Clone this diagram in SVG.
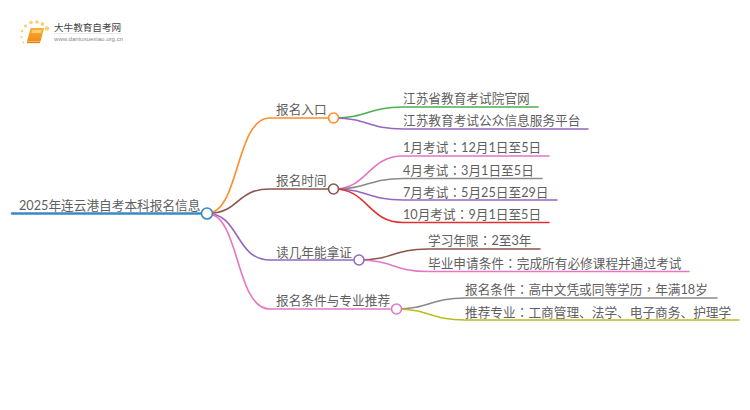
<svg xmlns="http://www.w3.org/2000/svg" width="750" height="410" viewBox="0 0 750 410">
<style>
text{font-family:Lato,"Noto Sans CJK SC","Liberation Sans",sans-serif;font-size:12.680px;fill:#5f5f5f}
.p{font-family:"Noto Sans CJK TC",sans-serif}
.c{fill:none;stroke-width:1.6;stroke-linecap:round}
.n{fill:#fff;stroke-width:1.6}
</style>
<defs><linearGradient id="b" x1="0" y1="0" x2="0" y2="1"><stop offset="0" stop-color="#fbb03b"/><stop offset="1" stop-color="#f08a12"/></linearGradient></defs>
<rect width="750" height="410" fill="#fff"/>
<g id="logo">
<g fill="#f9c85a" opacity=".85"><circle cx="47" cy="28.500" r="2.300"/><circle cx="42.500" cy="24" r="1.900"/><circle cx="37" cy="22" r="1.800"/><circle cx="31" cy="22.500" r="1.800"/><circle cx="25.500" cy="26" r="1.500"/><circle cx="22" cy="31" r="1.300"/><circle cx="21.500" cy="37" r="1.100"/><circle cx="23.500" cy="42.500" r="1"/></g>
<path d="M30.500 28H44L40.500 41.500H27Z" fill="url(#b)"/><path d="M32.500 30H41.500L41 33H31.500Z" fill="#fdd27a"/><path d="M27 42.500H40" stroke="#e07f10" stroke-width="1.300"/>
<text x="54" y="31" style="font-size:9.600px;fill:#444;font-family:'Noto Sans CJK SC',sans-serif">大牛教育自考网</text>
<path d="M54 33.500H122" stroke="#ddd" stroke-width=".6"/>
<text x="54" y="41" style="font-size:6.100px;fill:#888;font-family:'Liberation Sans',sans-serif">www.daniuxuexiao.org.cn</text>
</g>
<g id="connectors">
<path class="c" stroke="#3b8ac4" style="stroke-width:2.400" d="M12 213.500H201"/>
<path class="c" stroke="#ff8c28" d="M207 213.500C240 213.500 235 118 270 118H328"/>
<path class="c" stroke="#8c564b" d="M207 213.500C240 213.500 235 189 270 189H328"/>
<path class="c" stroke="#9467bd" d="M207 213.500C240 213.500 235 260 270 260H353"/>
<path class="c" stroke="#e377c2" d="M207 213.500C240 213.500 235 309 270 309H390"/>
<path class="c" stroke="#4caf50" d="M334 118C368 118 368 107 403 107H538"/>
<path class="c" stroke="#9467bd" d="M334 118C368 118 368 129 403 129H588"/>
<path class="c" stroke="#e377c2" d="M334 189C368 189 368 156 403 156H549"/>
<path class="c" stroke="#8a8a8a" d="M334 189C368 189 368 178.500 403 178.500H542"/>
<path class="c" stroke="#9467bd" d="M334 189C368 189 368 200 403 200H557"/>
<path class="c" stroke="#e03131" d="M334 189C368 189 368 222.500 403 222.500H549"/>
<path class="c" stroke="#8c564b" d="M359 260C393 260 393 249 428 249H540"/>
<path class="c" stroke="#e377c2" d="M359 260C393 260 393 271.500 428 271.500H689"/>
<path class="c" stroke="#8a8a8a" d="M396 309C430 309 430 298 465 298H717"/>
<path class="c" stroke="#bcbd22" d="M396 309C430 309 430 320 465 320H739"/>
</g>
<g id="root"><text x="19" y="210">2025年连云港自考本科报名信息</text><circle class="n" stroke="#3b8ac4" cx="207" cy="213.500" r="5.500"/></g>
<g id="n1"><text x="276" y="114">报名入口</text><circle class="n" stroke="#ff8c28" cx="333.500" cy="118" r="5"/></g>
<g id="n2"><text x="276" y="185">报名时间</text><circle class="n" stroke="#8c564b" cx="333.500" cy="189" r="5"/></g>
<g id="n3"><text x="276" y="257">读几年能拿证</text><circle class="n" stroke="#9467bd" cx="359" cy="260" r="5"/></g>
<g id="n4"><text x="276" y="305">报名条件与专业推荐</text><circle class="n" stroke="#e377c2" cx="396.500" cy="309" r="5"/></g>
<g id="n1a"><text x="403" y="103">江苏省教育考试院官网</text></g>
<g id="n1b"><text x="403" y="125">江苏教育考试公众信息服务平台</text></g>
<g id="n2a"><text x="403" y="152">1月考试<tspan class="p">：</tspan>12月1日至5日</text></g>
<g id="n2b"><text x="403" y="175">4月考试<tspan class="p">：</tspan>3月1日至5日</text></g>
<g id="n2c"><text x="403" y="197">7月考试<tspan class="p">：</tspan>5月25日至29日</text></g>
<g id="n2d"><text x="403" y="219">10月考试<tspan class="p">：</tspan>9月1日至5日</text></g>
<g id="n3a"><text x="428" y="245">学习年限<tspan class="p">：</tspan>2至3年</text></g>
<g id="n3b"><text x="428" y="268">毕业申请条件<tspan class="p">：</tspan>完成所有必修课程并通过考试</text></g>
<g id="n4a"><text x="465" y="294">报名条件<tspan class="p">：</tspan>高中文凭或同等学历<tspan class="p">，</tspan>年满18岁</text></g>
<g id="n4b"><text x="465" y="317">推荐专业<tspan class="p">：</tspan>工商管理、法学、电子商务、护理学</text></g>
</svg>
